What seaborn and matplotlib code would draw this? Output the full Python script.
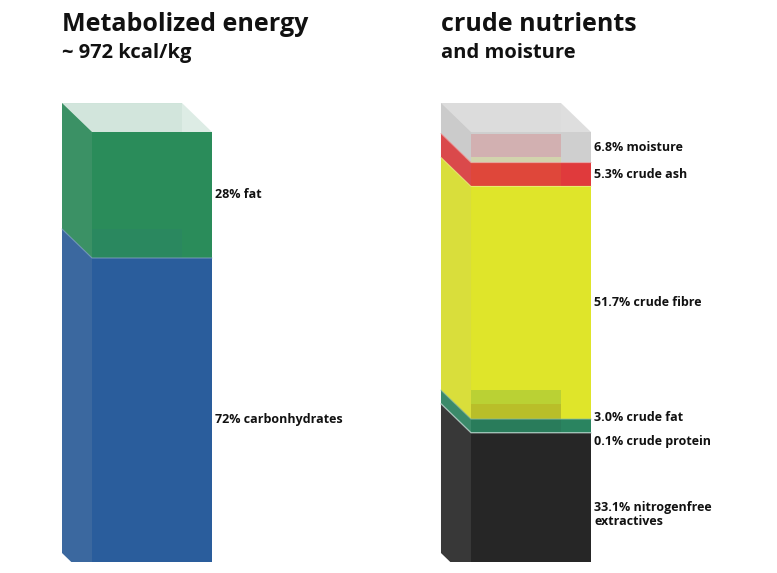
import matplotlib
matplotlib.use("Agg")
import matplotlib.pyplot as plt
import matplotlib.colors as mcolors
import numpy as np
import seaborn as sns

# data
bar_names = ["Metabolized energy", "crude nutrients"]
bar_subtitles = ["~ 972 kcal/kg", "and moisture"]

energy_labels = ["carbonhydrates", "fat"]
energy_values = [72, 28]
energy_colors = ["#2a5d9c", "#2a8c5a"]

nutrient_labels = ["nitrogenfree\nextractives", "crude protein", "crude fat",
                   "crude fibre", "crude ash", "moisture"]
nutrient_values = [33.1, 0.1, 3.0, 51.7, 5.3, 6.8]
nutrient_colors = ["#262626", "#8fd0bc", "#2a8460", "#dfe52a", "#e03a3c", "#cfcfcf"]

top_colors = ["#dcebe4", "#dddddd"]

sns.set_theme(style="white")
plt.rcParams["font.family"] = ["Open Sans", "DejaVu Sans"]

fig = plt.figure(figsize=(7.77, 5.73), dpi=100)
# the floor of the boxes is cropped by the axes' lower edge
ax = fig.add_axes([0, 11 / 573, 1, 562 / 573])

bar_w = 0.3166            # front face width
dx, dy = -0.0792, 6.44    # depth offset of the box
label_gap = 5.33          # min distance between labels (data units)


def mix(c, other, t):
    a = np.array(mcolors.to_rgb(c))
    b = np.array(mcolors.to_rgb(other))
    return tuple(a * (1 - t) + b * t)


def glass_alpha(c):
    # light colours look more see-through
    r, g, b = mcolors.to_rgb(c)
    return 0.8 if 0.3 * r + 0.59 * g + 0.11 * b > 0.7 else 0.92


def draw_stack(pos, labels, values, colors, top_color, decimals):
    x0 = pos - bar_w / 2
    x1 = pos + bar_w / 2
    bottoms = np.concatenate([[0], np.cumsum(values)[:-1]])
    tops = bottoms + np.array(values)

    # opaque underlay of the front faces
    for b, v, c in zip(bottoms, values, colors):
        ax.bar(pos, v, bottom=b, width=bar_w, color=c, lw=0, zorder=0)
    # back faces (seen through the glass)
    for b, t, c in zip(bottoms, tops, colors):
        ax.fill([x0 + dx, x1 + dx, x1 + dx, x0 + dx],
                [b + dy, b + dy, t + dy, t + dy], color=c, lw=0, zorder=1)
    # left side faces
    for b, t, c in zip(bottoms, tops, colors):
        ax.fill([x0 + dx, x0, x0, x0 + dx],
                [b + dy, b, t, t + dy], color=mix(c, "#b0b0b0", 0.13),
                lw=0, zorder=2)
    # front faces
    for b, v, c in zip(bottoms, values, colors):
        sns.barplot(x=[bar_names[pos]], y=[v], order=bar_names, bottom=b,
                    width=bar_w, color=c, saturation=1, alpha=glass_alpha(c),
                    errorbar=None, linewidth=0, zorder=3, ax=ax)
    # thin highlight on segment boundaries
    for b, c in zip(bottoms[1:], colors[:-1]):
        ax.plot([x0 + dx, x0, x1], [b + dy, b, b], color=mix(c, "#ffffff", 0.45),
                lw=0.8, alpha=0.7, zorder=4)
    # top face
    top = tops[-1]
    ax.fill([x0 + dx, x1 + dx, x1, x0], [top + dy, top + dy, top, top],
            color=top_color, lw=0, alpha=0.95, zorder=5)

    # labels at segment centres, spread apart when they collide
    ys = list((bottoms + tops) / 2)
    for _ in range(50):
        for i in range(len(ys) - 1):
            if ys[i + 1] - ys[i] < label_gap:
                mid = (ys[i] + ys[i + 1]) / 2
                ys[i] = mid - label_gap / 2
                ys[i + 1] = mid + label_gap / 2
    for y, lab, v in zip(ys, labels, values):
        n_lines = lab.count("\n") + 1
        ax.annotate(f"{v:.{decimals}f}% {lab}", xy=(x1 + 0.008, y),
                    xytext=(0, -5 * (n_lines - 1)), textcoords="offset points",
                    ha="left", va="center", fontsize=9, fontweight="bold",
                    color="#111111", linespacing=1.15, zorder=6,
                    annotation_clip=False)

    # titles
    ax.text(x0 + dx, 122.4, bar_names[pos], ha="left", va="baseline",
            fontsize=18, fontweight="bold", color="#111111")
    ax.text(x0 + dx, 116.4, bar_subtitles[pos], ha="left", va="baseline",
            fontsize=14.5, fontweight="bold", color="#111111")


draw_stack(0, energy_labels, energy_values, energy_colors, top_colors[0], 0)
draw_stack(1, nutrient_labels, nutrient_values, nutrient_colors, top_colors[1], 1)

ax.set_xlim(-0.4011, 1.6491)
ax.set_ylim(4.444, 129.333)
ax.axis("off")

fig.savefig("out.png", dpi=100, facecolor="white")
